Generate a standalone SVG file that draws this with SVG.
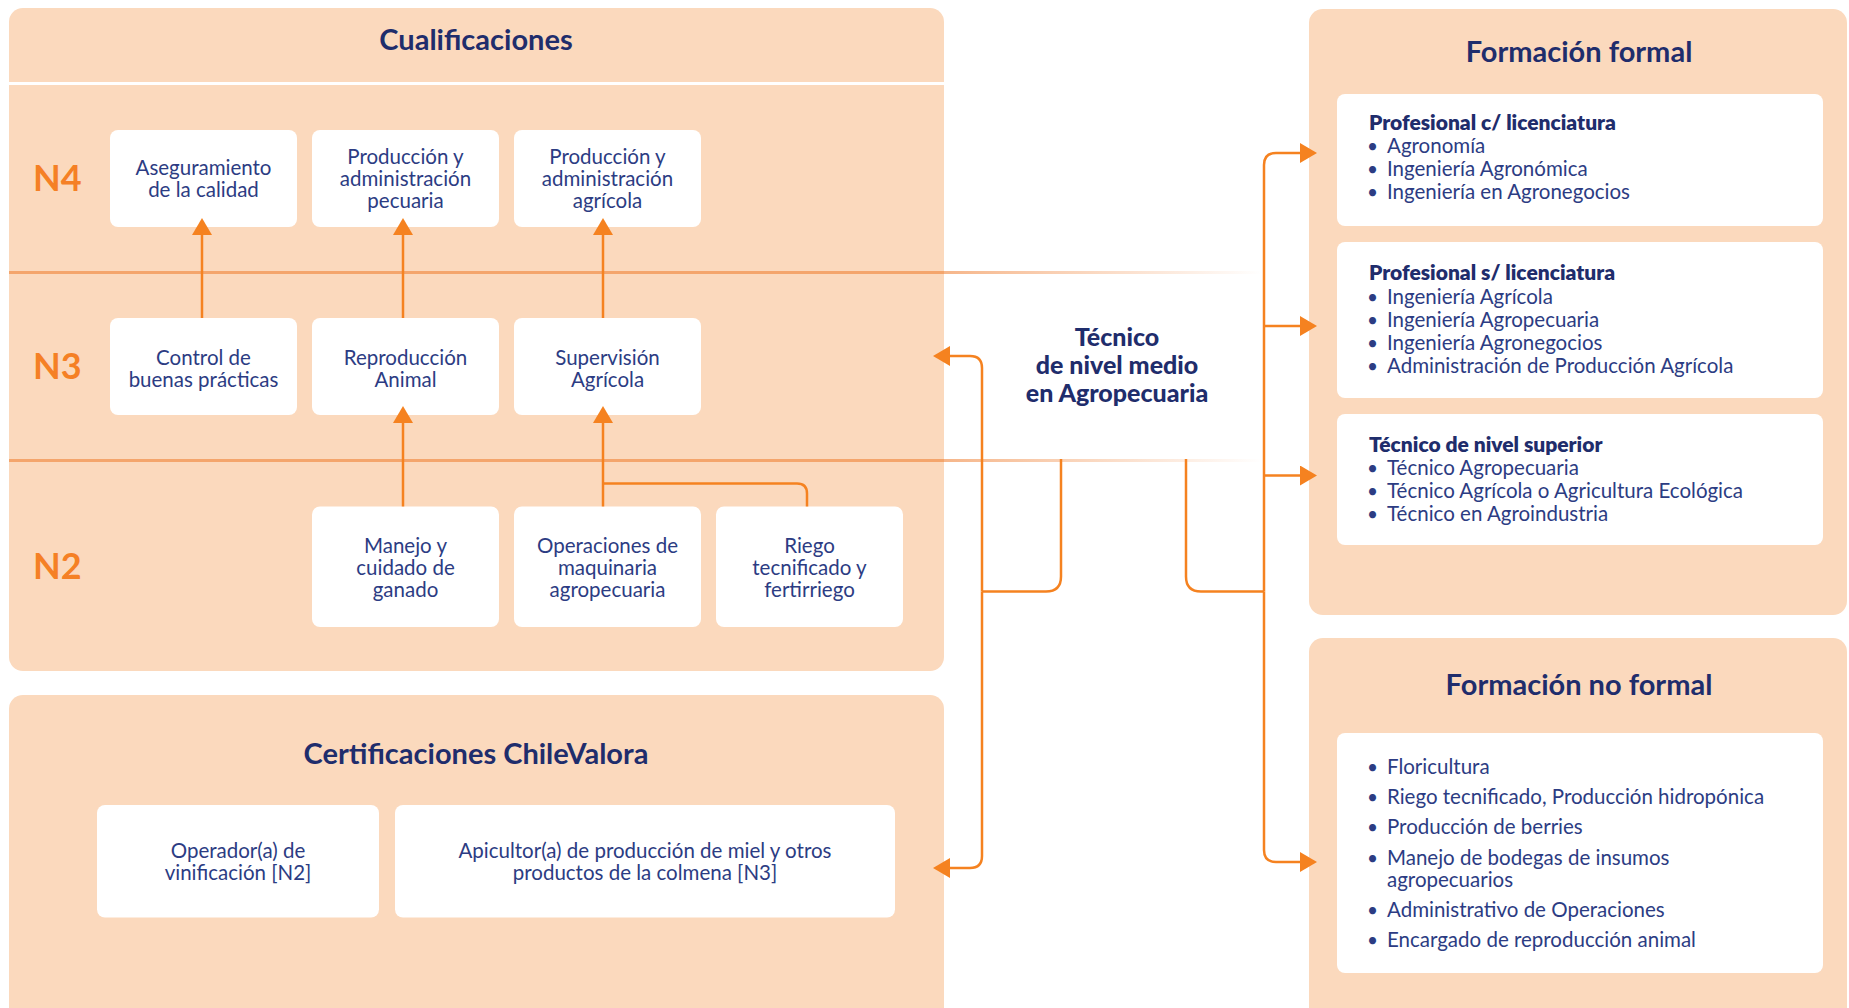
<svg xmlns="http://www.w3.org/2000/svg" width="1849" height="1008" viewBox="0 0 1849 1008">
<defs>
<style>
.panel{fill:#FBD9BD}
.card{fill:#FFFFFF}
.title{font-family:Lato,"Liberation Sans",sans-serif;font-weight:700;font-size:29px;fill:#1F2D6C;text-anchor:middle}
.lvl{font-family:Lato,"Liberation Sans",sans-serif;font-weight:700;font-size:36px;fill:#F58025}
.txt{font-family:Lato,"Liberation Sans",sans-serif;font-weight:400;font-size:20.5px;fill:#2C3C83;text-anchor:middle}
.item{font-family:Lato,"Liberation Sans",sans-serif;font-weight:400;font-size:20.5px;fill:#2C3C83}
.bul{font-family:Lato,"Liberation Sans",sans-serif;font-weight:400;font-size:19px;fill:#2C3C83}
.head{font-family:Lato,"Liberation Sans",sans-serif;font-weight:800;font-size:21px;fill:#1F2D6C}
.center{font-family:Lato,"Liberation Sans",sans-serif;font-weight:900;font-size:25px;fill:#1F2D6C;text-anchor:middle}
.sep{stroke:#F4A56C;stroke-width:3;fill:none}
.fade{stroke:url(#fadeGrad);stroke-width:3;fill:none}
.con{stroke:#F58220;stroke-width:2.5;fill:none}
.arr{marker-end:url(#ah)}
</style>
<linearGradient id="fadeGrad" gradientUnits="userSpaceOnUse" x1="944" y1="0" x2="1262" y2="0">
<stop offset="0" stop-color="#F6B68A" stop-opacity="1"/>
<stop offset="1" stop-color="#F6B68A" stop-opacity="0"/>
</linearGradient>
<marker id="ah" markerUnits="userSpaceOnUse" markerWidth="17" markerHeight="20" viewBox="0 0 17 20" refX="0" refY="10" orient="auto">
<path d="M0,0 L17,10 L0,20 Z" fill="#F58220"/>
</marker>
</defs>
<rect width="1849" height="1008" fill="#FFFFFF"/>

<!-- Panels -->
<g id="cualificaciones">
<rect class="panel" x="9" y="8" width="935" height="663" rx="14"/>
<rect x="9" y="82" width="935" height="3" fill="#FFFFFF"/>
<text class="title" x="476" y="50">Cualificaciones</text>
<line class="sep" x1="9" y1="272.5" x2="944" y2="272.5"/>
<line class="sep" x1="9" y1="460.5" x2="944" y2="460.5"/>
<line class="fade" x1="944" y1="272.5" x2="1262" y2="272.5"/>
<line class="fade" x1="944" y1="460.5" x2="1262" y2="460.5"/>
<text class="lvl" x="33" y="191">N4</text>
<text class="lvl" x="33" y="379">N3</text>
<text class="lvl" x="33" y="579">N2</text>
</g>

<g id="certificaciones">
<rect class="panel" x="9" y="695" width="935" height="340" rx="14"/>
<text class="title" x="476" y="764">Certificaciones ChileValora</text>
</g>

<g id="formacion-formal">
<rect class="panel" x="1309" y="9" width="538" height="606" rx="14"/>
<text class="title" x="1579" y="62">Formación formal</text>
</g>

<g id="formacion-no-formal">
<rect class="panel" x="1309" y="638" width="538" height="400" rx="14"/>
<text class="title" x="1579" y="695">Formación no formal</text>
</g>

<!-- N4 nodes -->
<g id="n4-aseguramiento">
<rect class="card" x="110" y="130" width="187" height="97" rx="8"/>
<text class="txt" x="203.5" y="175">Aseguramiento</text>
<text class="txt" x="203.5" y="197">de la calidad</text>
</g>
<g id="n4-prod-pecuaria">
<rect class="card" x="312" y="130" width="187" height="97" rx="8"/>
<text class="txt" x="405.5" y="164">Producción y</text>
<text class="txt" x="405.5" y="186">administración</text>
<text class="txt" x="405.5" y="208">pecuaria</text>
</g>
<g id="n4-prod-agricola">
<rect class="card" x="514" y="130" width="187" height="97" rx="8"/>
<text class="txt" x="607.5" y="164">Producción y</text>
<text class="txt" x="607.5" y="186">administración</text>
<text class="txt" x="607.5" y="208">agrícola</text>
</g>

<!-- N3 nodes -->
<g id="n3-control">
<rect class="card" x="110" y="318" width="187" height="97" rx="8"/>
<text class="txt" x="203.5" y="364.5">Control de</text>
<text class="txt" x="203.5" y="386.5">buenas prácticas</text>
</g>
<g id="n3-reproduccion">
<rect class="card" x="312" y="318" width="187" height="97" rx="8"/>
<text class="txt" x="405.5" y="364.5">Reproducción</text>
<text class="txt" x="405.5" y="386.5">Animal</text>
</g>
<g id="n3-supervision">
<rect class="card" x="514" y="318" width="187" height="97" rx="8"/>
<text class="txt" x="607.5" y="364.5">Supervisión</text>
<text class="txt" x="607.5" y="386.5">Agrícola</text>
</g>

<!-- N2 nodes -->
<g id="n2-manejo">
<rect class="card" x="312" y="506.5" width="187" height="120.5" rx="8"/>
<text class="txt" x="405.5" y="552.5">Manejo y</text>
<text class="txt" x="405.5" y="574.5">cuidado de</text>
<text class="txt" x="405.5" y="596.5">ganado</text>
</g>
<g id="n2-operaciones">
<rect class="card" x="514" y="506.5" width="187" height="120.5" rx="8"/>
<text class="txt" x="607.5" y="552.5">Operaciones de</text>
<text class="txt" x="607.5" y="574.5">maquinaria</text>
<text class="txt" x="607.5" y="596.5">agropecuaria</text>
</g>
<g id="n2-riego">
<rect class="card" x="716" y="506.5" width="187" height="120.5" rx="8"/>
<text class="txt" x="809.5" y="552.5">Riego</text>
<text class="txt" x="809.5" y="574.5">tecnificado y</text>
<text class="txt" x="809.5" y="596.5">fertirriego</text>
</g>

<!-- Certification nodes -->
<g id="cert-operador">
<rect class="card" x="97" y="805" width="282" height="112.5" rx="8"/>
<text class="txt" x="238" y="857.5">Operador(a) de</text>
<text class="txt" x="238" y="879.5">vinificación [N2]</text>
</g>
<g id="cert-apicultor">
<rect class="card" x="395" y="805" width="500" height="112.5" rx="8"/>
<text class="txt" x="645" y="857.5">Apicultor(a) de producción de miel y otros</text>
<text class="txt" x="645" y="879.5">productos de la colmena [N3]</text>
</g>

<!-- Center node -->
<g id="tecnico-nivel-medio">
<text class="center" x="1117" y="346">Técnico</text>
<text class="center" x="1117" y="374">de nivel medio</text>
<text class="center" x="1117" y="402">en Agropecuaria</text>
</g>

<!-- Formal education nodes -->
<g id="ff-con-licenciatura">
<rect class="card" x="1337" y="94" width="486" height="132" rx="8"/>
<text class="head" x="1369" y="130">Profesional c/ licenciatura</text>
<text class="bul" x="1367" y="153">•</text><text class="item" x="1387" y="153">Agronomía</text>
<text class="bul" x="1367" y="176">•</text><text class="item" x="1387" y="176">Ingeniería Agronómica</text>
<text class="bul" x="1367" y="199">•</text><text class="item" x="1387" y="199">Ingeniería en Agronegocios</text>
</g>
<g id="ff-sin-licenciatura">
<rect class="card" x="1337" y="242" width="486" height="156" rx="8"/>
<text class="head" x="1369" y="280">Profesional s/ licenciatura</text>
<text class="bul" x="1367" y="304">•</text><text class="item" x="1387" y="304">Ingeniería Agrícola</text>
<text class="bul" x="1367" y="327">•</text><text class="item" x="1387" y="327">Ingeniería Agropecuaria</text>
<text class="bul" x="1367" y="350">•</text><text class="item" x="1387" y="350">Ingeniería Agronegocios</text>
<text class="bul" x="1367" y="373">•</text><text class="item" x="1387" y="373">Administración de Producción Agrícola</text>
</g>
<g id="ff-tecnico-superior">
<rect class="card" x="1337" y="414" width="486" height="131" rx="8"/>
<text class="head" x="1369" y="452">Técnico de nivel superior</text>
<text class="bul" x="1367" y="475">•</text><text class="item" x="1387" y="475">Técnico Agropecuaria</text>
<text class="bul" x="1367" y="498">•</text><text class="item" x="1387" y="498">Técnico Agrícola o Agricultura Ecológica</text>
<text class="bul" x="1367" y="521">•</text><text class="item" x="1387" y="521">Técnico en Agroindustria</text>
</g>

<!-- Non-formal education node -->
<g id="nf-lista">
<rect class="card" x="1337" y="733" width="486" height="240" rx="8"/>
<text class="bul" x="1367" y="774">•</text><text class="item" x="1387" y="774">Floricultura</text>
<text class="bul" x="1367" y="804">•</text><text class="item" x="1387" y="804">Riego tecnificado, Producción hidropónica</text>
<text class="bul" x="1367" y="834">•</text><text class="item" x="1387" y="834">Producción de berries</text>
<text class="bul" x="1367" y="865">•</text><text class="item" x="1387" y="865">Manejo de bodegas de insumos</text>
<text class="item" x="1387" y="887">agropecuarios</text>
<text class="bul" x="1367" y="917">•</text><text class="item" x="1387" y="917">Administrativo de Operaciones</text>
<text class="bul" x="1367" y="947">•</text><text class="item" x="1387" y="947">Encargado de reproducción animal</text>
</g>

<!-- Connectors -->
<g id="connectors">
<path class="con arr" d="M202,318 V235"/>
<path class="con arr" d="M403,318 V235"/>
<path class="con arr" d="M603,318 V235"/>
<path class="con arr" d="M403,506.5 V423"/>
<path class="con arr" d="M603,506.5 V423"/>
<path class="con" d="M603,483.5 H797 Q807,483.5 807,493.5 V506.5"/>

<path class="con" d="M1061,459 V576.5 Q1061,591.5 1046,591.5 H982"/>
<path class="con arr" d="M982,591.5 V368 Q982,356 970,356 H950"/>
<path class="con arr" d="M982,591.5 V856 Q982,868 970,868 H950"/>

<path class="con" d="M1186,459 V576.5 Q1186,591.5 1201,591.5 H1264"/>
<path class="con arr" d="M1264,591.5 V165 Q1264,153 1276,153 H1300"/>
<path class="con arr" d="M1264,591.5 V850 Q1264,862 1276,862 H1300"/>
<path class="con arr" d="M1264,326 H1300"/>
<path class="con arr" d="M1264,475.5 H1300"/>
</g>
</svg>
